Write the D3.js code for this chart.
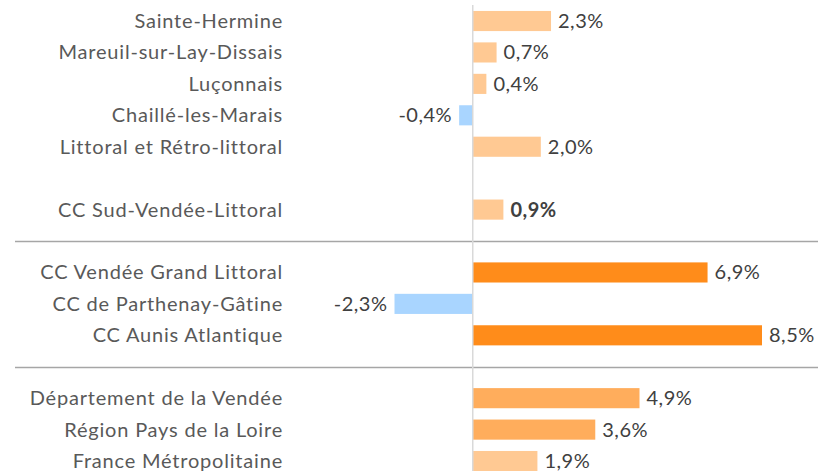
<!DOCTYPE html>
<html>
<head>
<meta charset="utf-8">
<script src="https://cdn.jsdelivr.net/npm/d3@7"></script>
<style>
    body { margin: 0; background: #fff; }
    svg { display: block; }
    text { font-family: Lato, "Open Sans", sans-serif; }
</style>
</head>
<body>
<div id="chart"></div>
<script>
// Data (slots with null are gaps / separators)
const categories = [
    'Sainte-Hermine', 'Mareuil-sur-Lay-Dissais', 'Luçonnais', 'Chaillé-les-Marais',
    'Littoral et Rétro-littoral', 'gap1', 'CC Sud-Vendée-Littoral', 'sep1',
    'CC Vendée Grand Littoral', 'CC de Parthenay-Gâtine', 'CC Aunis Atlantique', 'sep2',
    'Département de la Vendée', 'Région Pays de la Loire', 'France Métropolitaine'
];
const values = [2.3, 0.7, 0.4, -0.4, 2.0, null, 0.9, null, 6.9, -2.3, 8.5, null, 4.9, 3.6, 1.9];
const groups = ['commune', 'commune', 'commune', 'commune', 'commune', null, 'cc', null,
    'compare', 'compare', 'compare', null, 'ref', 'ref', 'ref_fr'];
const separators = ['sep1', 'sep2'];
const boldLabels = ['CC Sud-Vendée-Littoral'];

const colors = {
    commune: '#FFC993',
    cc: '#FFC993',
    compare: '#FF8C1A',
    ref: '#FFAD5C',
    ref_fr: '#FFC993',
    negative: '#A9D5FF'
};

const data = categories.map((c, i) => ({ name: c, value: values[i], group: groups[i] }))

const W = 818, H = 471;
const svg = d3.select('#chart').append('svg')
    .attr('width', W)
    .attr('height', H);

const x = d3.scaleLinear()
    .domain([-2.3, 8.5])
    .range([394.5, 762]);

const y = d3.scaleBand()
    .domain(categories)
    .range([5.3, 5.3 + 31.43 * categories.length])
    .paddingInner(0.36)
    .paddingOuter(0.18);

// separators
svg.selectAll('line.sep')
    .data(separators)
  .enter().append('line')
    .attr('class', 'sep')
    .attr('x1', 15)
    .attr('x2', W)
    .attr('y1', d => Math.round(y(d) + y.bandwidth() / 2) + 0.5)
    .attr('y2', d => Math.round(y(d) + y.bandwidth() / 2) + 0.5)
    .attr('stroke', '#A6A6A6')
    .attr('stroke-width', 1.5);

const bars = data.filter(d => d.value !== null);

svg.selectAll('rect.bar')
    .data(bars)
  .enter().append('rect')
    .attr('class', 'bar')
    .attr('x', d => x(Math.min(0, d.value)))
    .attr('y', d => y(d.name))
    .attr('width', d => Math.abs(x(d.value) - x(0)))
    .attr('height', y.bandwidth())
    .attr('fill', d => d.value < 0 ? colors.negative : colors[d.group]);

// zero line
svg.append('line')
    .attr('x1', x(0))
    .attr('x2', x(0))
    .attr('y1', 5)
    .attr('y2', H)
    .attr('stroke', '#D9D9D9')
    .attr('stroke-width', 1.5);

// category labels
svg.selectAll('text.cat')
    .data(bars)
  .enter().append('text')
    .attr('class', 'cat')
    .attr('x', 283)
    .attr('y', d => y(d.name) + y.bandwidth() / 2)
    .attr('dy', '0.35em')
    .attr('text-anchor', 'end')
    .style('font-size', '20px')
    .style('letter-spacing', '0.8px')
    .style('fill', '#595959')
    .text(d => d.name);

// value labels
const fmt = v => v.toFixed(1).replace('.', ',') + '%';
svg.selectAll('text.val')
    .data(bars)
  .enter().append('text')
    .attr('class', 'val')
    .attr('x', d => d.value < 0 ? x(d.value) - 7 : x(d.value) + 7)
    .attr('y', d => y(d.name) + y.bandwidth() / 2)
    .attr('dy', '0.35em')
    .attr('text-anchor', d => d.value < 0 ? 'end' : 'start')
    .style('font-size', '20px')
    .style('letter-spacing', '0.5px')
    .style('font-weight', d => boldLabels.includes(d.name) ? 700 : 400)
    .style('fill', '#404040')
    .text(d => fmt(d.value));
</script>
</body>
</html>
